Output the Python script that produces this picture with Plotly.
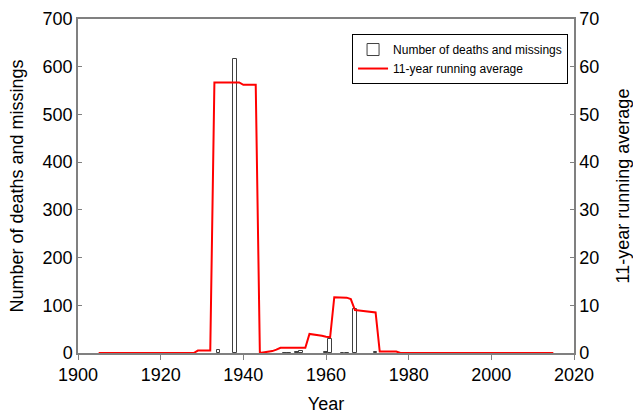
import plotly.graph_objects as go

# Bar data: number of deaths and missings per year
bar_years = [1934, 1938, 1950, 1951, 1953, 1954, 1960, 1961, 1964, 1965, 1967, 1972]
bar_values = [6, 617, 1, 1, 2, 5, 2, 29, 1, 1, 92, 3]

# 11-year running average, years 1905..2015
avg_years = list(range(1905, 2016))
avg_values = (
    [0.0] * 24                                   # 1905-1928
    + [0.5, 0.5, 0.5, 0.5]                       # 1929-1932
    + [56.7] * 7                                 # 1933-1939
    + [56.2, 56.2, 56.2, 56.2]                   # 1940-1943
    + [0.0, 0.1, 0.2, 0.4, 0.7, 1.1, 1.1, 1.1, 1.1, 1.1, 1.1, 1.1]  # 1944-1955
    + [4.0, 3.9, 3.8, 3.6, 3.4, 3.3]             # 1956-1961
    + [11.7, 11.7, 11.7, 11.6, 11.3]             # 1962-1966
    + [9.0, 8.9, 8.8, 8.7, 8.6, 8.5]             # 1967-1972
    + [0.3, 0.3, 0.3, 0.3, 0.3]                  # 1973-1977
    + [0.0] * 38                                 # 1978-2015
)

x_ticks = [1900, 1920, 1940, 1960, 1980, 2000, 2020]

FONT = "Liberation Sans, Arial, sans-serif"
AXIS_COLOR = "#808080"
FS = 18

fig = go.Figure()
fig.add_trace(go.Bar(
    x=bar_years, y=bar_values, width=0.9,
    name="Number of deaths and missings",
    marker=dict(color="white", line=dict(color="#404040", width=1)),
    yaxis="y",
))
fig.add_trace(go.Scatter(
    x=avg_years, y=avg_values, mode="lines",
    name="11-year running average",
    line=dict(color="#ff0000", width=2),
    yaxis="y2",
))

fig.update_layout(
    width=633, height=414,
    margin=dict(l=78, r=59, t=19, b=61, autoexpand=False),
    paper_bgcolor="white", plot_bgcolor="white",
    font=dict(family=FONT, size=FS, color="black"),
    showlegend=True,
    bargap=0,
    legend=dict(
        x=0.988, y=0.955, xanchor="right", yanchor="top",
        bgcolor="white", bordercolor="black", borderwidth=1,
        font=dict(family=FONT, size=12, color="black"),
        tracegroupgap=4,
    ),
    xaxis=dict(
        range=[1900, 2020], tickvals=x_ticks, automargin=False,
        showline=True, linecolor=AXIS_COLOR, linewidth=1.5, mirror=True,
        ticks="outside", ticklen=5, tickcolor=AXIS_COLOR,
        showgrid=False, zeroline=False,
        title=dict(text="Year", font=dict(size=FS), standoff=14),
        tickfont=dict(size=FS),
    ),
    yaxis=dict(
        range=[0, 700], dtick=100, automargin=False,
        showline=True, linecolor=AXIS_COLOR, linewidth=1.5,
        ticks="inside", ticklen=4, tickcolor=AXIS_COLOR,
        showgrid=False, zeroline=False,
        title=dict(text="Number of deaths and missings", font=dict(size=FS), standoff=14),
        tickfont=dict(size=FS),
    ),
    yaxis2=dict(
        range=[0, 70], dtick=10, overlaying="y", side="right", automargin=False,
        showline=True, linecolor=AXIS_COLOR, linewidth=1.5,
        ticks="inside", ticklen=4, tickcolor=AXIS_COLOR,
        showgrid=False, zeroline=False,
        title=dict(text="11-year running average", font=dict(size=FS), standoff=20),
        tickfont=dict(size=FS),
    ),
)

fig.write_html(
    "out.html",
    config={"displayModeBar": False},
    post_script="document.body.style.margin='0';document.body.style.padding='0';",
)
